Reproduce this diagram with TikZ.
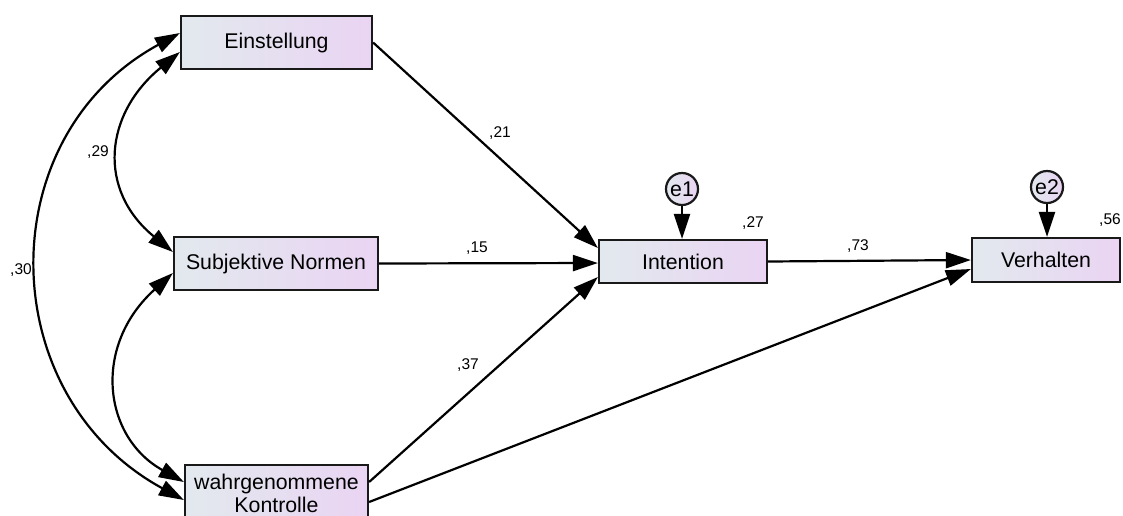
\documentclass[tikz,border=0pt]{standalone}
\usepackage{fontspec}
\setmainfont{Liberation Sans}
\usetikzlibrary{arrows.meta,calc}
\definecolor{boxleft}{RGB}{226,233,238}
\definecolor{boxright}{RGB}{234,212,243}
\tikzset{
  var/.style={draw=black!90, line width=2.2pt, left color=boxleft, right color=boxright,
    inner sep=0pt, font=\fontsize{21.3}{23}\selectfont, align=center},
  err/.style={circle, draw=black!90, line width=2.2pt, left color=boxleft, right color=boxright,
    inner sep=0pt, minimum size=32pt, font=\fontsize{21.3}{23}\selectfont},
  path/.style={line width=2.2pt, -{Triangle[length=25pt,width=16pt]}},
  cov/.style={line width=2.2pt, {Triangle[length=25pt,width=16pt]}-{Triangle[length=25pt,width=16pt]}},
  coef/.style={inner sep=0pt, font=\fontsize{15.5}{17}\selectfont}
}
\begin{document}
\begin{tikzpicture}[x=1pt,y=-1pt]
\useasboundingbox[fill=white] (0,0) rectangle (1123,515);
% variables
\node[var, minimum width=191pt, minimum height=53pt] (Ein) at (276.5,42.5) {Einstellung};
\node[var, minimum width=204pt, minimum height=53pt] (Sub) at (276,263.5) {Subjektive Normen};
\node[var, minimum width=183pt, minimum height=56pt] (Kon) at (276.5,493) {wahrgenommene\\Kontrolle};
\node[var, minimum width=168pt, minimum height=43pt] (In) at (683,261.5) {Intention};
\node[var, minimum width=148pt, minimum height=44pt] (Ver) at (1046,260) {Verhalten};
\node[err] (e1) at (682,189) {e1};
\node[err] (e2) at (1047,187) {e2};
% regressions
\draw[path] (Ein.east) -- ($(In.west)+(0,-13.5)$);
\draw[path] (Sub.east) -- ($(In.west)+(0,1.5)$);
\draw[path] ($(Kon.east)+(0,-11)$) -- ($(In.west)+(0,15.5)$);
\draw[path] ($(Kon.east)+(0,9)$) -- ($(Ver.west)+(0,9)$);
\draw[path] (In.east) -- (Ver.west);
\draw[path] (e1.south) -- (e1 |- In.north);
\draw[path] (e2.south) -- (e2 |- Ver.north);
% covariances
\draw[cov] ($(Ein.west)+(0,9.5)$) .. controls (104,114) and (97,190) .. ($(Sub.west)+(0,-11.5)$);
\draw[cov] ($(Sub.west)+(0,9.5)$) .. controls (92,346) and (103,437) .. ($(Kon.west)+(0,-11)$);
\draw[cov] ($(Ein.west)+(0,-9.5)$) .. controls (-11,137) and (-7,396) .. ($(Kon.west)+(0,7)$);
% coefficients
\node[coef] (c21) at (500,133) {,21};
\node[coef] (c15) at (477,248) {,15};
\node[coef] (c37) at (468,365) {,37};
\node[coef] (c73) at (858,246) {,73};
\node[coef] (c27) at (753,223) {,27};
\node[coef] (c56) at (1110,220) {,56};
\node[coef] (c29) at (98,152) {,29};
\node[coef] (c30) at (21,270) {,30};
\end{tikzpicture}
\end{document}
